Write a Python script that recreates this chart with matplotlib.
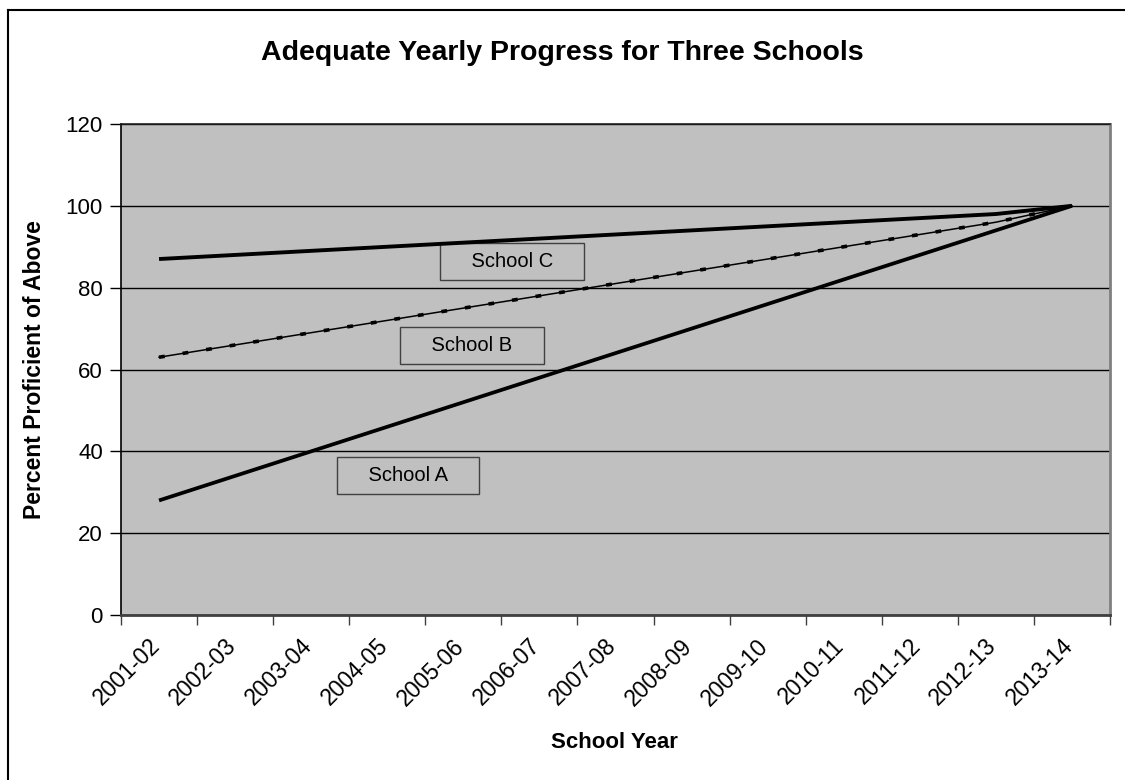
import numpy as np
import matplotlib
matplotlib.use("Agg")
import matplotlib.pyplot as plt
import matplotlib.transforms as mtransforms
from matplotlib.lines import Line2D

plt.rcParams['font.family'] = ['Liberation Sans', 'DejaVu Sans']

years = ['2001-02', '2002-03', '2003-04', '2004-05', '2005-06', '2006-07',
         '2007-08', '2008-09', '2009-10', '2010-11', '2011-12', '2012-13',
         '2013-14']
school_a = [28, 34, 40, 46, 52, 58, 64, 70, 76, 82, 88, 94, 100]
school_b = [63, 66, 69, 72, 75, 78, 81, 84, 87, 90, 93, 96, 100]
school_c = [87, 88, 89, 90, 91, 92, 93, 94, 95, 96, 97, 98, 100]

#label box positions (category index, value)
labels = ['School C', 'School B', 'School A']
label_x = [4.64, 4.11, 3.27]
label_y = [86.3, 65.8, 34.2]

W, H = 1125, 780
fig = plt.figure(figsize=(W / 100, H / 100), dpi=100)
ax = fig.add_axes([121 / W, 1 - 615 / H, 989 / W, 491 / H])
ax.set_facecolor('#c0c0c0')

x = np.arange(len(years))
ax.plot(x, school_a, color='black', lw=2.7, solid_capstyle='butt')
ax.plot(x, school_b, color='black', lw=1.1)
ax.plot(x, school_b, color='black', lw=2.6, linestyle=(0, (1.6, 5.0)),
        dash_capstyle='butt')
ax.plot(x, school_c, color='black', lw=2.8, solid_capstyle='butt')

for lab, lx, ly in zip(labels, label_x, label_y):
    ax.text(lx, ly, '    ' + lab + '    ', ha='center', va='center',
            fontsize=14.5,
            bbox=dict(boxstyle='square,pad=0.45', fc='#c0c0c0',
                      ec='#404040', lw=1.0),
            zorder=1)

ax.set_xlim(-0.5, len(years) - 0.5)
ax.set_ylim(0, 120)
ax.set_yticks(np.arange(0, 121, 20))
ax.yaxis.grid(True, color='black', lw=1.0)
ax.set_axisbelow(True)

#excel style: ticks between categories, labels on centers
ax.set_xticks(np.arange(-0.5, len(years)), [''] * (len(years) + 1))
ax.set_xticks(x, years, minor=True)
ax.tick_params(axis='x', which='major', length=7, width=1, color='#404040')
ax.tick_params(axis='x', which='minor', length=0, labelsize=16.5, pad=14)
ax.tick_params(axis='y', length=8, width=1, labelsize=16, pad=5)
shift = mtransforms.ScaledTranslation(-11 / 100, 0, fig.dpi_scale_trans)
for lab in ax.get_xticklabels(minor=True):
    lab.set_rotation(45)
    lab.set_ha('right')
    lab.set_rotation_mode('anchor')
    lab.set_transform(lab.get_transform() + shift)

ax.spines['left'].set_color('black')
ax.spines['left'].set_linewidth(1.2)
ax.spines['bottom'].set_color('#404040')
ax.spines['bottom'].set_linewidth(2)
ax.spines['top'].set_color('#202020')
ax.spines['top'].set_linewidth(1.2)
ax.spines['right'].set_color('#808080')
ax.spines['right'].set_linewidth(2)

fig.text(35 / W, 1 - 370 / H, 'Percent Proficient of Above', rotation=90,
         ha='center', va='center', fontsize=16.5, fontweight='bold')
fig.text(614 / W, 1 - 743 / H, 'School Year', ha='center', va='center',
         fontsize=16, fontweight='bold')
fig.text(0.5, 1 - 53 / H, 'Adequate Yearly Progress for Three Schools',
         ha='center', va='center', fontsize=20.5, fontweight='bold')

#outer chart frame (only top and left fall inside the picture)
fig.add_artist(Line2D([8 / W, 8 / W], [0, 1 - 10 / H],
                      color='black', lw=1.5))
fig.add_artist(Line2D([8 / W, 1], [1 - 10 / H, 1 - 10 / H],
                      color='black', lw=1.5))

fig.savefig('out.png', dpi=100)
